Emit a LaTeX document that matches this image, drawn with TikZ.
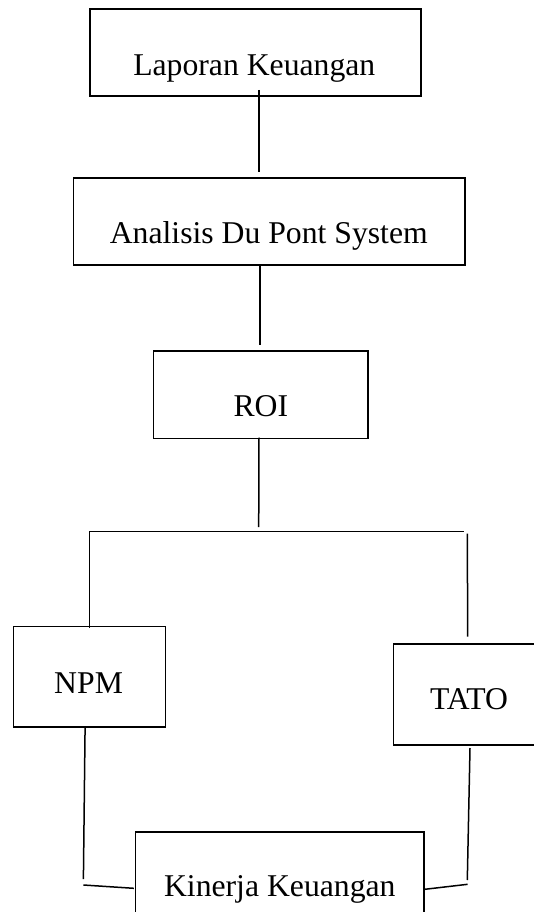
\documentclass[tikz,border=0pt]{standalone}
\usepackage{fontspec}
\setmainfont{Liberation Serif}
\begin{document}
\begin{tikzpicture}[x=1pt,y=-1pt,
  box/.style={draw, line width=1.6pt, inner sep=0pt, anchor=north west},
  lbl/.style={anchor=base, inner sep=0pt, font=\fontsize{31.7}{38}\selectfont},
  conn/.style={line width=1.5pt}]
\clip (0,0) rectangle (534,912);
\fill[white] (0,0) rectangle (534,912);
% boxes
\node[box, minimum width=330.7pt, minimum height=87pt] (lap) at (89.3,8) {};
\node[box, minimum width=391.3pt, minimum height=86.7pt] (ana) at (72.7,177.3) {};
\node[box, minimum width=214.3pt, minimum height=87.7pt] (roi) at (152.7,350) {};
\node[box, minimum width=151.9pt, minimum height=100.3pt] (npm) at (12.6,625.7) {};
\node[box, minimum width=152.6pt, minimum height=101pt] (tato) at (392.7,643) {};
\node[box, minimum width=288.9pt, minimum height=130pt] (kin) at (134.5,831) {};
% labels
\node[lbl] (laptxt) at (254.3,76) {Laporan Keuangan};
\node[lbl] (anatxt) at (268.8,243.3) {Analisis Du Pont System};
\node[lbl] (roitxt) at (260.8,416.7) {ROI};
\node[lbl] (npmtxt) at (88.6,693.3) {NPM};
\node[lbl] (tatotxt) at (469,709) {TATO};
\node[lbl] (kintxt) at (279.8,896.7) {Kinerja Keuangan};
% connector points
\coordinate (a1) at (259,90);
\coordinate (a2) at (259,172);
\coordinate (b1) at (260,264);
\coordinate (b2) at (260,345);
\coordinate (c1) at (259,437.7);
\coordinate (c2) at (258.7,527);
\coordinate (hl) at (89.3,531.7);
\coordinate (hr) at (464,531.7);
\coordinate (nl) at (89.3,628);
\coordinate (rt) at (467.3,533.5);
\coordinate (rb) at (467.7,636.7);
\coordinate (n1) at (85.1,726);
\coordinate (n2) at (83.4,879);
\coordinate (n3) at (83.4,885);
\coordinate (n4) at (133.9,888.3);
\coordinate (t1) at (470,748);
\coordinate (t2) at (467.3,880);
\coordinate (t3) at (467.6,884.3);
\coordinate (t4) at (424.7,889.3);
% connectors
\draw[conn] (a1) -- (a2);
\draw[conn] (b1) -- (b2);
\draw[conn] (c1) -- (c2);
\draw[conn] (nl) -- (hl) -- (hr);
\draw[conn] (rt) -- (rb);
\draw[conn] (n1) -- (n2);
\draw[conn] (n3) -- (n4);
\draw[conn] (t1) -- (t2);
\draw[conn] (t3) -- (t4);
\end{tikzpicture}
\end{document}
